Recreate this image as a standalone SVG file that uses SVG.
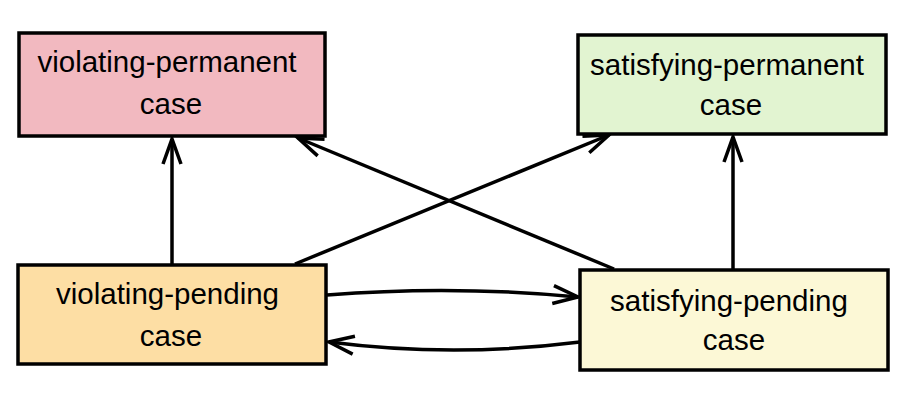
<svg xmlns="http://www.w3.org/2000/svg" width="916" height="406" viewBox="0 0 916 406">
  <defs>
    <style>
      .box { stroke: #000; stroke-width: 3.5; }
      .lbl { font-family: "Liberation Sans", Arial, Helvetica, sans-serif; font-size: 29.5px; fill: #000; text-anchor: middle; }
      .edge { fill: none; stroke: #000; stroke-width: 3.5; marker-end: url(#arrow); }
    </style>
    <marker id="arrow" markerUnits="userSpaceOnUse" viewBox="-30 -12 34 24" refX="0" refY="0" markerWidth="34" markerHeight="24" orient="auto" overflow="visible">
      <path d="M -25 -9 L 0 0 L -25 9" fill="none" stroke="#000" stroke-width="3.5" stroke-linejoin="miter"/>
    </marker>
  </defs>
  <rect width="916" height="406" fill="#fff"/>

  <g id="connectors">
    <line class="edge" x1="172" y1="264" x2="172" y2="139"/>
    <line class="edge" x1="733" y1="270" x2="733" y2="137"/>
    <line class="edge" x1="614" y1="269" x2="298" y2="138"/>
    <line class="edge" x1="295" y1="264" x2="609" y2="135"/>
    <path class="edge" d="M 327 295 Q 453 285 578 297"/>
    <path class="edge" d="M 580 342 Q 453 358 329 342"/>
  </g>

  <g id="violating-permanent">
    <rect class="box" x="19" y="33" width="306" height="103" fill="#f2b9c0"/>
    <text class="lbl" x="167" y="72">violating-permanent</text>
    <text class="lbl" x="171" y="114">case</text>
  </g>

  <g id="satisfying-permanent">
    <rect class="box" x="578" y="35" width="308" height="99" fill="#e2f4d1"/>
    <text class="lbl" x="727" y="75">satisfying-permanent</text>
    <text class="lbl" x="731" y="115">case</text>
  </g>

  <g id="violating-pending">
    <rect class="box" x="18" y="265" width="308" height="99" fill="#fddea4"/>
    <text class="lbl" x="167.5" y="304">violating-pending</text>
    <text class="lbl" x="171" y="346">case</text>
  </g>

  <g id="satisfying-pending">
    <rect class="box" x="580" y="270" width="308" height="100" fill="#fcf8d6"/>
    <text class="lbl" x="729" y="311">satisfying-pending</text>
    <text class="lbl" x="734" y="350">case</text>
  </g>
</svg>
